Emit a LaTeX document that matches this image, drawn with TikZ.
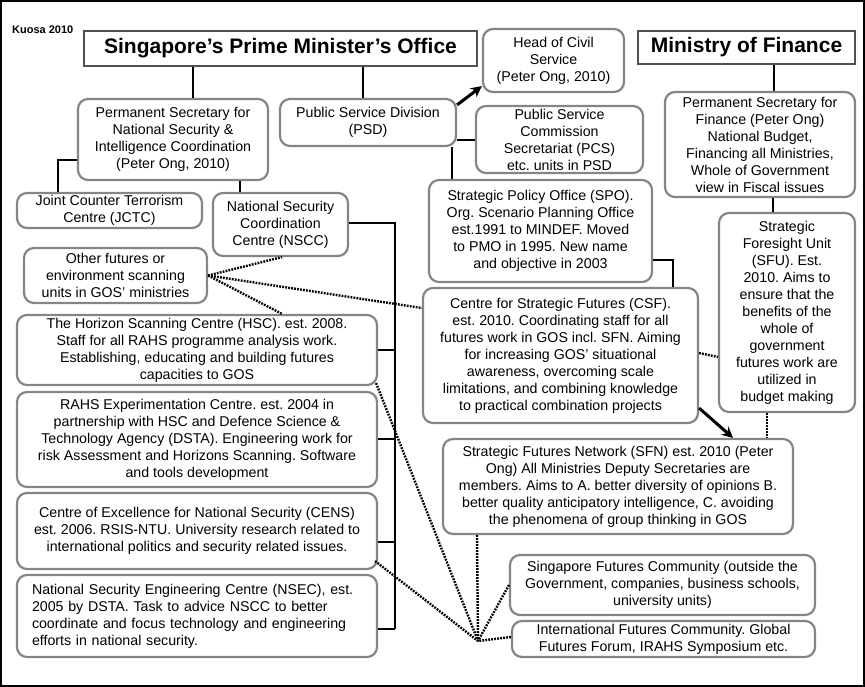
\documentclass[tikz,border=0pt]{standalone}
\usepackage{fontspec}
\setmainfont{Liberation Sans}
\usetikzlibrary{arrows.meta,calc}
\definecolor{boxgray}{HTML}{858585}
\definecolor{titlegray}{HTML}{505050}
\newcommand\bodyfont{\fontsize{14.2}{17}\selectfont}
\newcommand\titlefont{\fontsize{21}{25}\selectfont\bfseries}
\frenchspacing
\begin{document}
\begin{tikzpicture}[x=1pt,y=-1pt,
  box/.style={draw=boxgray, line width=2.2pt, rounded corners=10pt, align=center, inner sep=0pt, font=\bodyfont, text=black},
  titlebox/.style={draw=titlegray, line width=1.2pt, inner sep=0pt, font=\titlefont},
  conn/.style={line width=1.5pt},
  dots/.style={line width=2.4pt, dash pattern=on 1.8pt off 1.2pt},
  bigarrow/.style={line width=3pt, -{Stealth[length=11pt,width=11pt]}}]
\useasboundingbox (0,0) rectangle (865,687);
\draw[line width=1.5pt] (1,1) rectangle (864,686);

\node[font=\bfseries\fontsize{11}{13}\selectfont, anchor=west, inner sep=0pt] (kuosa) at (12,30) {Kuosa 2010};
\node[titlebox, minimum width=393pt, minimum height=35pt] (pmo) at (280.5,48.5) {Singapore’s Prime Minister’s Office};
\node[titlebox, minimum width=217pt, minimum height=33pt] (mof) at (746.5,47.5) {Ministry of Finance};

\node[box, minimum width=141pt, minimum height=63pt] (hcs) at (553.5,60.5) {Head of Civil\\Service\\(Peter Ong, 2010)};
\node[box, minimum width=190pt, minimum height=81pt] (psns) at (173,139.5) {Permanent Secretary for\\National Security \&\\Intelligence Coordination\\(Peter Ong, 2010)};
\node[box, minimum width=176pt, minimum height=47pt] (psd) at (368,122.5) {Public Service Division\\(PSD)};
\node[box, minimum width=167pt, minimum height=67pt] (pcs) at (559.5,139.5) {Public Service\\Commission\\Secretariat (PCS)\\etc. units in PSD};
\node[box, minimum width=190pt, minimum height=105pt] (finps) at (760,144.5) {Permanent Secretary for\\Finance (Peter Ong)\\National Budget,\\Financing all Ministries,\\Whole of Government\\view in Fiscal issues};
\node[box, minimum width=223pt, minimum height=102pt] (spo) at (540.5,231) {Strategic Policy Office (SPO).\\Org. Scenario Planning Office\\est.1991 to MINDEF. Moved\\to PMO in 1995. New name\\and objective in 2003};
\node[box, minimum width=136pt, minimum height=199pt] (sfu) at (787,312.5) {Strategic\\Foresight Unit\\(SFU). Est.\\2010. Aims to\\ensure that the\\benefits of the\\whole of\\government\\futures work are\\utilized in\\budget making};
\node[box, minimum width=185pt, minimum height=35pt] (jctc) at (109.5,210.5) {Joint Counter Terrorism\\Centre (JCTC)};
\node[box, minimum width=135pt, minimum height=63pt] (nscc) at (280.5,224.5) {National Security\\Coordination\\Centre (NSCC)};
\node[box, minimum width=183pt, minimum height=55pt] (other) at (115.5,275.5) {Other futures or\\environment scanning\\units in GOS’ ministries};
\node[box, minimum width=360pt, minimum height=70pt] (hsc) at (197,350) {The Horizon Scanning Centre (HSC). est. 2008.\\Staff for all RAHS programme analysis work.\\Establishing, educating and building futures\\capacities to GOS};
\node[box, minimum width=360pt, minimum height=95pt] (rahs) at (197,439.5) {RAHS Experimentation Centre. est. 2004 in\\partnership with HSC and Defence Science \&\\Technology Agency (DSTA). Engineering work for\\risk Assessment and Horizons Scanning. Software\\and tools development};
\node[box, minimum width=360pt, minimum height=76pt] (cens) at (197,531) {Centre of Excellence for National Security (CENS)\\est. 2006. RSIS-NTU. University research related to\\international politics and security related issues.};
\node[box, minimum width=360pt, minimum height=82pt, align=left, text width=330pt] (nsec) at (197,616) {National Security Engineering Centre (NSEC), est.\\2005 by DSTA. Task to advice NSCC to better\\coordinate and focus technology and engineering\\efforts in national security.};
\node[box, minimum width=275pt, minimum height=135pt] (csf) at (560.5,355.5) {Centre for Strategic Futures (CSF).\\est. 2010. Coordinating staff for all\\futures work in GOS incl. SFN. Aiming\\for increasing GOS’ situational\\awareness, overcoming scale\\limitations, and combining knowledge\\to practical combination projects};
\node[box, minimum width=350pt, minimum height=95pt] (sfn) at (618,486.5) {Strategic Futures Network (SFN) est. 2010 (Peter\\Ong) All Ministries Deputy Secretaries are\\members. Aims to A. better diversity of opinions B.\\better quality anticipatory intelligence, C. avoiding\\the phenomena of group thinking in GOS};
\node[box, minimum width=305pt, minimum height=60pt] (sfc) at (662.5,585) {Singapore Futures Community (outside the\\Government, companies, business schools,\\university units)};
\node[box, minimum width=303pt, minimum height=36pt] (ifc) at (663.5,639) {International Futures Community. Global\\Futures Forum, IRAHS Symposium etc.};

\coordinate (bustop) at (395,223);
\coordinate (busbot) at (395,629);
\coordinate (hub) at (478,641);

% solid connectors
\draw[conn] ([xshift=20pt]psns.north) -- ([xshift=20pt]psns.north |- pmo.south);
\draw[conn] ([xshift=-5pt]psd.north) -- ([xshift=-5pt]psd.north |- pmo.south);
\draw[conn] ([yshift=-17.5pt]psd.east) -- ([yshift=-17.5pt]psd.east -| pcs.west);
\draw[conn] ([xshift=-5pt]psd.south east) -- ([xshift=-5pt]psd.south east |- spo.north);
\draw[conn] ([xshift=27.5pt]mof.south) -- ([xshift=27.5pt]mof.south |- finps.north);
\draw[conn] ([xshift=13pt]finps.south) -- ([xshift=13pt]finps.south |- sfu.north);
\draw[conn] ([yshift=-20.5pt]psns.west) -| ([xshift=-51.5pt]jctc.north);
\draw[conn] ([xshift=67pt]psns.south) -- ([xshift=67pt]psns.south |- nscc.north);
\draw[conn] (nscc.east |- bustop) -- (bustop) -- (busbot);
\draw[conn] (hsc.east) -- (hsc.east -| bustop);
\draw[conn] ([yshift=0.5pt]rahs.east) -- ([yshift=0.5pt]rahs.east -| bustop);
\draw[conn] ([yshift=-11pt]cens.east) -- ([yshift=-11pt]cens.east -| bustop);
\draw[conn] (nsec.east |- busbot) -- (busbot);
\draw[conn] ([yshift=-29pt]spo.east) -| ([xshift=112.5pt]csf.north);

% thick arrows
\draw[bigarrow] ([yshift=-7pt]psd.north east) -- ([yshift=7pt]hcs.south west);
\draw[bigarrow] ([yshift=16pt]csf.south east) -- ([xshift=115pt]sfn.north);

% dotted connectors
\draw[dots] (other.east) -- ([xshift=1.5pt]nscc.south);
\draw[dots] (other.east) -- ([yshift=47.5pt]csf.west);
\draw[dots] (other.east) -- ([xshift=85pt]hsc.north);
\draw[dots] ([yshift=2.5pt]csf.east) -- ([yshift=-44.5pt]sfu.west);
\draw[dots] ([xshift=-20pt]sfu.south) -- ([xshift=-20pt]sfu.south |- sfn.north);
\draw[dots] ([xshift=-2pt,yshift=3pt]hsc.south east) -- (hub);
\draw[dots] ([xshift=-3pt,yshift=9pt]cens.south east) -- (hub);
\draw[dots] ([xshift=-141pt]sfn.south) -- (hub);
\draw[dots] (sfc.west) -- (hub);
\draw[dots] ([yshift=2pt]ifc.west) -- (hub);
\end{tikzpicture}
\end{document}
